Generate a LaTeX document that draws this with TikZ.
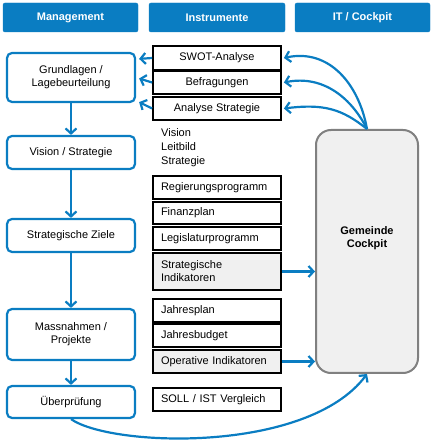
\documentclass[tikz,border=0pt]{standalone}
\usepackage{fontspec}
\setmainfont{Liberation Sans}
\usetikzlibrary{arrows.meta}
\definecolor{cblue}{HTML}{0A7DC2}
\definecolor{cgray}{HTML}{F0F0F0}
\definecolor{cborder}{HTML}{808080}

\begin{document}
\begin{tikzpicture}[x=1pt,y=1pt,
		font=\fontsize{11}{13}\selectfont,
		head/.style={draw=cblue,fill=cblue,rounded corners=2pt,minimum height=29pt,inner sep=0pt,text=white,font=\fontsize{11}{13}\selectfont\bfseries},
		mbox/.style={draw=cblue,line width=2.2pt,rounded corners=5pt,minimum width=128pt,inner sep=0pt,align=center},
		ibox/.style={draw=black,line width=1.8pt,minimum width=128pt,inner sep=0pt,minimum height=23pt},
		ileft/.style={ibox,text width=112pt,inner xsep=8pt,align=left},
		flow/.style={draw=cblue,line width=2.2pt,-{Straight Barb[length=5pt,width=11pt,line width=2.2pt]}}]
	\useasboundingbox (0,0) rectangle (431,445);
	% headers
	\node[head,minimum width=135pt] (mgmt) at (70.5,427.5){Management};
	\node[head,minimum width=136pt] (instr) at (217,427.5){Instrumente};
	\node[head,minimum width=135pt] (itc) at (362.5,427.5){IT / Cockpit};
	% management
	\node[mbox,minimum height=49pt] (grund) at (71,367.5){Grundlagen /\\Lagebeurteilung};
	\node[mbox,minimum height=33pt] (vision) at (71,292.5){Vision / Strategie};
	\node[mbox,minimum height=33pt] (ziele) at (71,209.5){Strategische Ziele};
	\node[mbox,minimum height=51pt] (mass) at (71,110.5){Massnahmen /\\Projekte};
	\node[mbox,minimum height=32pt] (pruef) at (71,43){Überprüfung};
	% instrumente
	\node[ibox,minimum height=24pt] (swot) at (217,387){SWOT-Analyse};
	\node[ibox] (befr) at (217,362.5){Befragungen};
	\node[ibox] (analyse) at (217,336.5){Analyse Strategie};
	\node[anchor=north west,inner sep=0pt,align=left,font=\fontsize{11}{14}\selectfont] (leit) at (161,317){Vision\\Leitbild\\Strategie};
	\node[ileft] (regier) at (217,257.5){Regierungsprogramm};
	\node[ileft,minimum height=22pt] (finanz) at (217,232){Finanzplan};
	\node[ileft] (legis) at (217,206.5){Legislaturprogramm};
	\node[ileft,fill=cgray,minimum height=37pt] (stratind) at (217,173.5){Strategische\\Indikatoren};
	\node[ileft] (jplan) at (217,134.5){Jahresplan};
	\node[ileft] (jbudget) at (217,109.5){Jahresbudget};
	\node[ileft,fill=cgray] (opind) at (217,83.5){Operative Indikatoren};
	\node[ileft] (soll) at (217,45.5){SOLL / IST Vergleich};
	% cockpit
	\node[draw=cborder,fill=cgray,line width=2pt,rounded corners=15pt,minimum width=102pt,minimum height=243pt] (cockpit) at (367,193.5){};
	\node[align=center,font=\fontsize{11}{13}\selectfont\bfseries] (cockpittxt) at ([yshift=13pt]cockpit.center){Gemeinde\\Cockpit};
	% arrows
	\draw[flow] (grund) -- (vision);
	\draw[flow] (vision) -- (ziele);
	\draw[flow] (ziele) -- (mass);
	\draw[flow] (mass) -- (pruef);
	\draw[flow] (swot.west) -- ([xshift=3pt,yshift=-7pt]grund.north east);
	\draw[flow] (befr.west) -- ([xshift=3pt,yshift=-1pt]grund.east);
	\draw[flow] (analyse.west) -- ([xshift=3pt,yshift=1pt]grund.south east);
	\draw[flow] (cockpit.north) .. controls +(-8,45) and +(45,10) .. ([xshift=2pt]swot.east);
	\draw[flow] (cockpit.north) .. controls +(-15,30) and +(40,8) .. ([xshift=2pt]befr.east);
	\draw[flow] (cockpit.north) .. controls +(-25,20) and +(40,5) .. ([xshift=2pt]analyse.east);
	\draw[flow] (stratind.east) -- (stratind.east -| cockpit.west);
	\draw[flow] (opind.east) -- (opind.east -| cockpit.west);
	\draw[flow] (pruef.south) .. controls +(40,-28) and +(-60,-80) .. (cockpit.south);
\end{tikzpicture}
\end{document}
